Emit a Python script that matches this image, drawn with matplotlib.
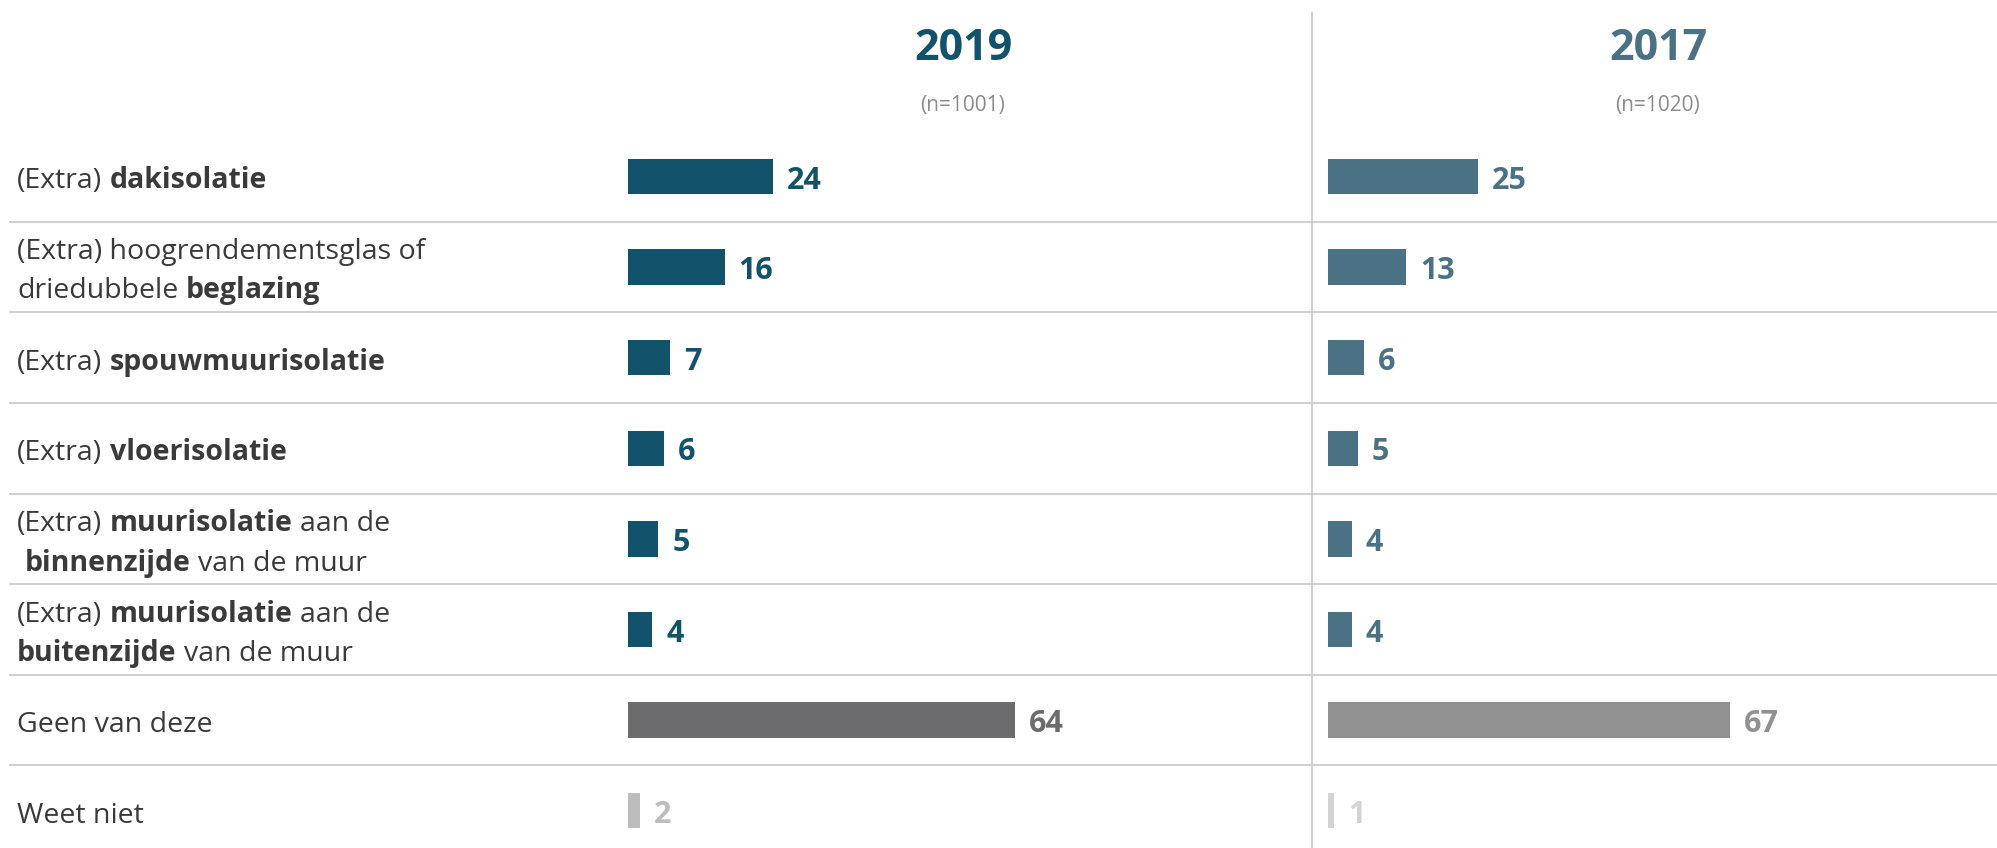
import re
import matplotlib.pyplot as plt

plt.rcParams['font.family'] = ['Open Sans', 'DejaVu Sans']

# Antwoordcategorieën (** markeert vetgedrukte delen)
categorieen = [
    "(Extra) **dakisolatie**",
    "(Extra) hoogrendementsglas of\ndriedubbele **beglazing**",
    "(Extra) **spouwmuurisolatie**",
    "(Extra) **vloerisolatie**",
    "(Extra) **muurisolatie** aan de\n **binnenzijde** van de muur",
    "(Extra) **muurisolatie** aan de\n**buitenzijde** van de muur",
    "Geen van deze",
    "Weet niet",
]
jaren = ["2019", "2017"]
steekproef = ["(n=1001)", "(n=1020)"]
waarden_2019 = [24, 16, 7, 6, 5, 4, 64, 2]
waarden_2017 = [25, 13, 6, 5, 4, 4, 67, 1]

kleuren_2019 = ['#12536b'] * 6 + ['#6c6c6e', '#bdbdbd']
kleuren_2017 = ['#4b7185'] * 6 + ['#919191', '#d3d3d3']
kop_kleuren = ['#12536b', '#4b7185']

# Rijen: midden van rij 0 op 176.5 px, rijhoogte 90.6 px
W, H = 1997, 848
rij_h = 90.6
rij0 = 176.5
y_boven = -rij0 / rij_h
y_onder = (H - rij0) / rij_h

fig = plt.figure(figsize=(W / 100, H / 100), dpi=100)

bg = fig.add_axes([0, 0, 1, 1])
bg.set_xlim(0, W)
bg.set_ylim(y_onder, y_boven)
bg.axis('off')

# Scheidingslijnen en verticale lijn tussen de jaren
for i in range(len(categorieen) - 1):
    bg.axhline(i + 0.5, xmin=10 / W, xmax=1, color='#d0d0d0', lw=1.4, zorder=0)
bg.plot([1312, 1312], [(13 - rij0) / rij_h, y_onder], color='#c8c8c8', lw=1.2)

# Labels met gemengde opmaak
label_fs = 20.5
label_kleur = '#3a3a3a'
spatie = label_fs * 0.26
regel_afstand = 39 / rij_h
y_correctie = -3.5  # tekst iets lager in de rij

for i, cat in enumerate(categorieen):
    regels = cat.split('\n')
    n = len(regels)
    for j, regel in enumerate(regels):
        y = i + (j - (n - 1) / 2) * regel_afstand
        stukken = [s for s in re.split(r'(\*\*.*?\*\*)', regel) if s != '']
        vorige = None
        spatie_ervoor = False
        for stuk in stukken:
            if stuk.strip() == '':
                spatie_ervoor = True
                continue
            vet = stuk.startswith('**')
            ruw = stuk[2:-2] if vet else stuk
            tekst = ruw.strip()
            dx = spatie if (spatie_ervoor or ruw.startswith(' ')) else 0
            gewicht = 'bold' if vet else 'normal'
            if vorige is None:
                vorige = bg.annotate(tekst, xy=(17, y), xytext=(dx, y_correctie),
                                     textcoords='offset points', ha='left', va='center',
                                     fontsize=label_fs, fontweight=gewicht, color=label_kleur)
            else:
                vorige = bg.annotate(tekst, xy=(1, 0), xycoords=vorige, xytext=(dx, 0),
                                     textcoords='offset points', ha='left', va='bottom',
                                     fontsize=label_fs, fontweight=gewicht, color=label_kleur)
            spatie_ervoor = ruw.endswith(' ')

# Staafpanelen per jaar
panelen = [(628, 605), (1328, 600)]
kop_x = [963, 1658]
for k, (waarden, kleuren) in enumerate([(waarden_2019, kleuren_2019),
                                        (waarden_2017, kleuren_2017)]):
    x0, breedte = panelen[k]
    ax = fig.add_axes([x0 / W, 0, breedte / W, 1])
    ax.set_xlim(0, 100)
    ax.set_ylim(y_onder, y_boven)
    ax.axis('off')
    ax.barh(range(len(waarden)), waarden, height=0.39, color=kleuren)
    for i, (v, c) in enumerate(zip(waarden, kleuren)):
        ax.annotate(str(v), xy=(v, i), xytext=(10, -3), textcoords='offset points',
                    ha='left', va='center', fontsize=22, fontweight='bold', color=c)

    bg.text(kop_x[k], (48 - rij0) / rij_h, jaren[k], ha='center', va='center',
            fontsize=31, fontweight='bold', color=kop_kleuren[k])
    bg.text(kop_x[k], (105 - rij0) / rij_h, steekproef[k], ha='center', va='center',
            fontsize=15, color='#8c8c8c')

fig.savefig('out.png', dpi=100)
